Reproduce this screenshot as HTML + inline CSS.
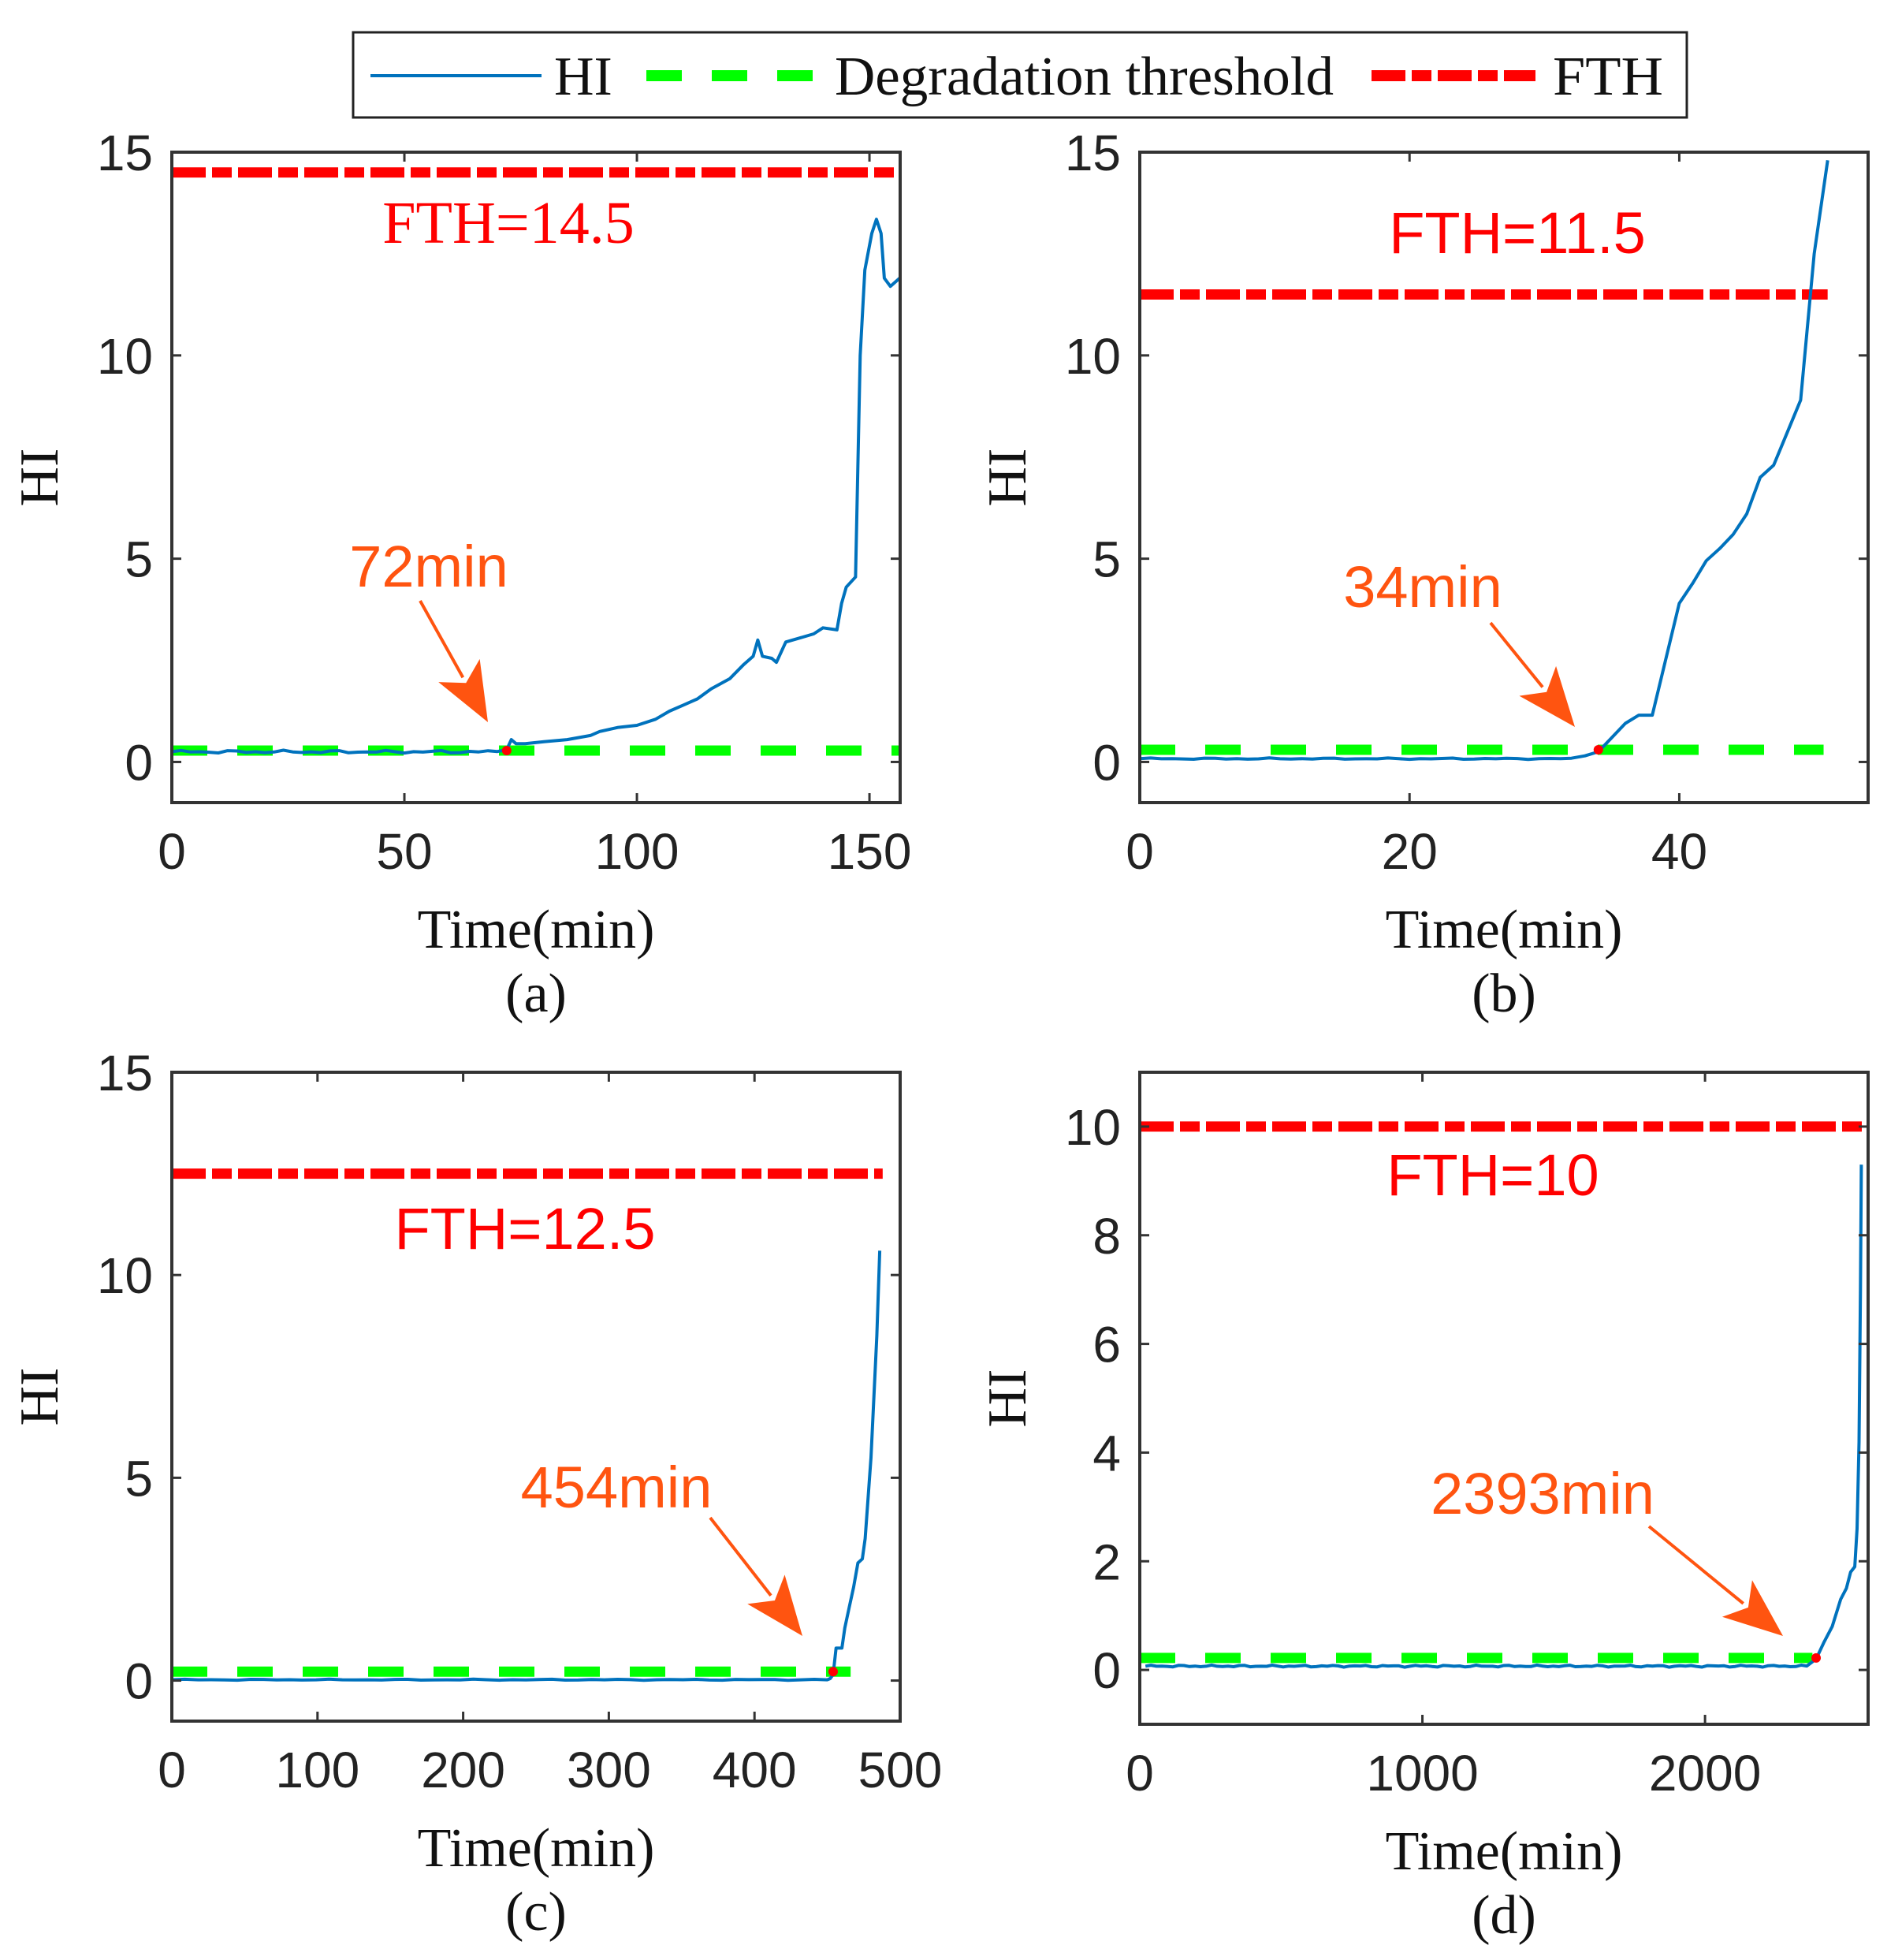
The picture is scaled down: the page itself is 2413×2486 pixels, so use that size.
<!DOCTYPE html>
<html><head><meta charset="utf-8"><style>
html,body{margin:0;padding:0;background:#fff;}
svg{display:block;}
.tk{font-family:"Liberation Sans",Arial,sans-serif;font-size:64px;fill:#222;}
.tm{font-family:"Liberation Serif","Times New Roman",serif;font-size:70px;fill:#111;}
.an{font-family:"Liberation Sans",Arial,sans-serif;font-size:74px;}
</style></head><body>
<svg id="s" width="2413" height="2486" viewBox="0 0 2413 2486" xmlns="http://www.w3.org/2000/svg">
<rect width="2413" height="2486" fill="#fff"/>
<rect x="448" y="41" width="1692" height="108" fill="#fff" stroke="#222" stroke-width="3"/>
<line x1="470" y1="96" x2="687" y2="96" stroke="#0072BD" stroke-width="4"/>
<text class="tm" x="703" y="120">HI</text>
<line x1="820" y1="96" x2="1031" y2="96" stroke="#00ff00" stroke-width="14" stroke-dasharray="45 38"/>
<text class="tm" x="1059" y="120" textLength="633" lengthAdjust="spacingAndGlyphs">Degradation threshold</text>
<line x1="1740" y1="96" x2="1948" y2="96" stroke="#ff0000" stroke-width="14" stroke-dasharray="43 8 25 8"/>
<text class="tm" x="1970" y="120" textLength="140" lengthAdjust="spacingAndGlyphs">FTH</text>
<g id="g"></g>
</svg>
<script>
var NS="http://www.w3.org/2000/svg",G=document.getElementById('g');
function el(t,a,txt){var e=document.createElementNS(NS,t);for(var k in a)e.setAttribute(k,a[k]);if(txt!==undefined)e.textContent=txt;G.appendChild(e);return e;}
function panel(o){
 var L=o.L,R=o.R,T=o.T,B=o.B;
 var X=function(v){return L+(v-o.x0)/(o.x1-o.x0)*(R-L);};
 var Y=function(v){return B-(v-o.y0)/(o.y1-o.y0)*(B-T);};
 el('line',{x1:X(0),y1:Y(o.th),x2:X(o.thEnd),y2:Y(o.th),stroke:'#00ff00','stroke-width':13,'stroke-dasharray':'45 38'});
 el('line',{x1:X(0),y1:Y(o.fth),x2:X(o.fthEnd),y2:Y(o.fth),stroke:'#ff0000','stroke-width':13,'stroke-dasharray':'43 8 25 8'});
 var d='';o.data.forEach(function(p,i){d+=(i?'L':'M')+X(p[0]).toFixed(1)+' '+Y(p[1]).toFixed(1);});
 el('path',{d:d,fill:'none',stroke:'#0072BD','stroke-width':4,'stroke-linejoin':'round'});
 el('circle',{cx:X(o.dot),cy:Y(o.th),r:6,fill:'#ff0000'});
 el('rect',{x:L,y:T,width:R-L,height:B-T,fill:'none',stroke:'#333','stroke-width':4});
 o.xt.forEach(function(v){var x=X(v);el('line',{x1:x,y1:B,x2:x,y2:B-12,stroke:'#333','stroke-width':3});el('line',{x1:x,y1:T,x2:x,y2:T+12,stroke:'#333','stroke-width':3});
  el('text',{x:x,y:B+84,'text-anchor':'middle','class':'tk'},String(v));});
 o.yt.forEach(function(v){var y=Y(v);el('line',{x1:L,y1:y,x2:L+12,y2:y,stroke:'#333','stroke-width':3});el('line',{x1:R,y1:y,x2:R-12,y2:y,stroke:'#333','stroke-width':3});
  el('text',{x:L-24,y:y+23,'text-anchor':'end','class':'tk'},String(v));});
 el('text',{x:(L+R)/2,y:B+184,'text-anchor':'middle','class':'tm'},'Time(min)');
 el('text',{x:(L+R)/2,y:B+265,'text-anchor':'middle','class':'tm'},o.lab);
 var hx=L-145,hy=(T+B)/2;
 el('text',{x:hx,y:hy,'text-anchor':'middle','class':'tm',transform:'rotate(-90 '+hx+' '+hy+')'},'HI');
 var f=el('text',{x:o.ft[0],y:o.ft[1],'class':o.serif?'tm':'an','text-anchor':'middle',style:'fill:#ff0000'+(o.serif?';font-size:76px':'')},o.ftxt);
 el('text',{x:o.mt[0],y:o.mt[1],'class':'an','text-anchor':'middle',style:'fill:#ff5410'},o.mtxt);
 var a=o.ar,dx=a[2]-a[0],dy=a[3]-a[1],len=Math.sqrt(dx*dx+dy*dy),ux=dx/len,uy=dy/len,hl=75,hw=30;
 var bx=a[2]-ux*hl,by=a[3]-uy*hl;
 el('line',{x1:a[0],y1:a[1],x2:bx+ux*10,y2:by+uy*10,stroke:'#ff5410','stroke-width':4});
 el('path',{d:'M'+a[2]+' '+a[3]+'L'+(bx-uy*hw)+' '+(by+ux*hw)+'L'+(bx+ux*18)+' '+(by+uy*18)+'L'+(bx+uy*hw)+' '+(by-ux*hw)+'Z',fill:'#ff5410'});
}
function noise(a,b,n,base,amp){var r=[];for(var i=0;i<=n;i++){var x=a+(b-a)*i/n;r.push([x,base+amp*Math.sin(i*1.7)*Math.cos(i*0.53)]);}return r;}
panel({L:218,R:1142,T:193,B:1018,x0:0,x1:156.6,y0:-1,y1:15,xt:[0,50,100,150],yt:[0,5,10,15],th:0.28,thEnd:156.6,fth:14.5,fthEnd:156.6,dot:72,lab:'(a)',
 data:noise(0,70,35,0.25,0.04).concat([[72,0.3],[73,0.55],[74,0.45],[76,0.45],[80,0.5],[85,0.55],[90,0.65],[92,0.75],[96,0.85],[100,0.9],[104,1.05],[107,1.25],[110,1.4],[113,1.55],[116,1.8],[120,2.05],[123,2.4],[125,2.6],[126,3.0],[127,2.6],[129,2.55],[130,2.45],[132,2.95],[135,3.05],[138,3.15],[140,3.3],[143,3.25],[144,3.9],[145,4.3],[147,4.55],[148,10],[149,12.1],[150.5,13.0],[151.5,13.35],[152.5,13.0],[153.2,11.9],[154.5,11.7],[156.5,11.9]]),
 ft:[645,308],ftxt:'FTH=14.5',serif:true,mt:[544,744],mtxt:'72min',ar:[533,762,619,916]});
panel({L:1446,R:2370,T:193,B:1018,x0:0,x1:54,y0:-1,y1:15,xt:[0,20,40],yt:[0,5,10,15],th:0.3,thEnd:50.7,fth:11.5,fthEnd:51,dot:34,lab:'(b)',
 data:noise(0,32,40,0.08,0.02).concat([[33,0.15],[34,0.25],[35,0.6],[36,0.95],[37,1.15],[38,1.15],[40,3.9],[41,4.4],[42,4.95],[43,5.25],[44,5.6],[45,6.1],[46,7.0],[47,7.3],[48,8.1],[49,8.9],[50,12.5],[51,14.8]]),
 ft:[1925,321],ftxt:'FTH=11.5',mt:[1805,770],mtxt:'34min',ar:[1891,790,1998,922]});
panel({L:218,R:1142,T:1360,B:2183,x0:0,x1:500,y0:-1,y1:15,xt:[0,100,200,300,400,500],yt:[0,5,10,15],th:0.22,thEnd:466,fth:12.5,fthEnd:488,dot:454,lab:'(c)',
 data:noise(0,450,50,0.02,0.015).concat([[452,0.05],[454,0.15],[456,0.8],[460,0.8],[462,1.3],[465,1.8],[468,2.3],[471,2.9],[474,3.0],[476,3.5],[478,4.5],[480,5.5],[482,7.0],[484,8.5],[486,10.6]]),
 ft:[666,1584],ftxt:'FTH=12.5',mt:[782,1912],mtxt:'454min',ar:[901,1925,1018,2075]});
panel({L:1446,R:2370,T:1360,B:2187,x0:0,x1:2577,y0:-1,y1:11,xt:[0,1000,2000],yt:[0,2,4,6,8,10],th:0.22,thEnd:2380,fth:10,fthEnd:2560,dot:2393,lab:'(d)',
 data:noise(20,2360,120,0.07,0.02).concat([[2393,0.2],[2420,0.5],[2450,0.8],[2480,1.3],[2500,1.5],[2515,1.8],[2530,1.9],[2538,2.6],[2545,4.2],[2550,7],[2553,9.3]]),
 ft:[1894,1516],ftxt:'FTH=10',mt:[1957,1920],mtxt:'2393min',ar:[2092,1936,2262,2075]});
</script>
</body></html>
